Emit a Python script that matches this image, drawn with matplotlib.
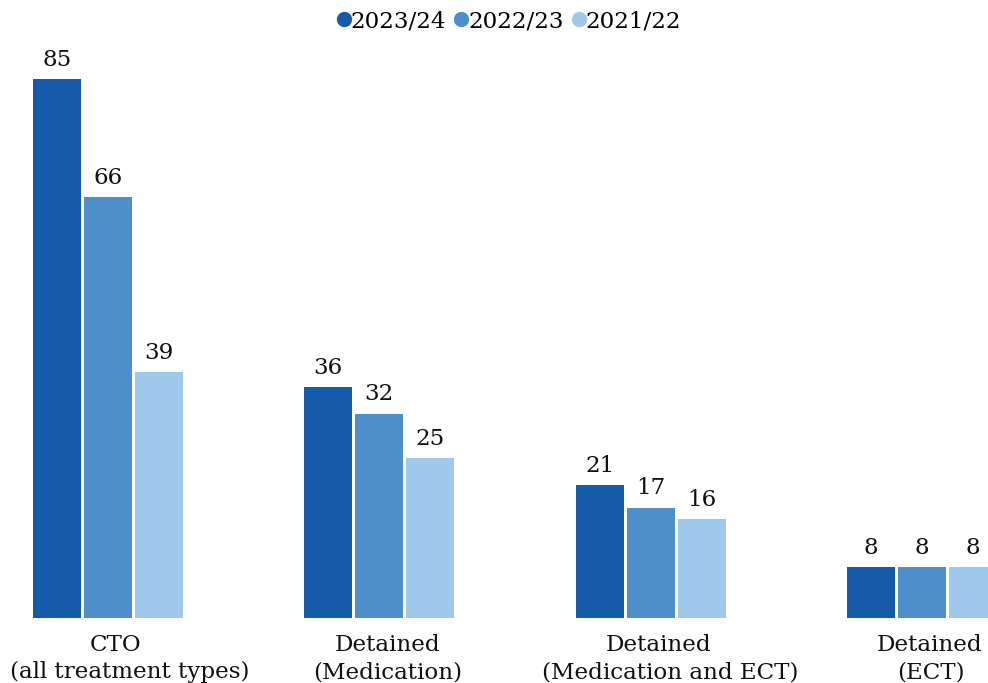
import numpy as np
import matplotlib.pyplot as plt
from matplotlib.transforms import offset_copy

plt.rcParams['font.family'] = 'DejaVu Serif'

categories = ["CTO\n(all treatment types)", "Detained\n(Medication)",
              "Detained\n(Medication and ECT)", "Detained\n(ECT)"]
series = ["2023/24", "2022/23", "2021/22"]
v2324 = [85, 36.4, 20.9, 8]
v2223 = [66.4, 32.2, 17.4, 8]
v2122 = [38.8, 25.2, 15.6, 8]
colors = ["#165BAA", "#4E8FCB", "#9FC8EB"]

FS = 16.6

fig = plt.figure(figsize=(9.88, 6.83), dpi=100)
ax = fig.add_axes([0, 1 - 618 / 683, 1, (618 - 40) / 683])

x = np.arange(len(categories))
w = 48 / 271.33
step = 51 / 271.33
for i, (vals, c, name) in enumerate(zip([v2324, v2223, v2122], colors, series)):
    bars = ax.bar(x + (i - 1) * step, vals, width=w, color=c, label=name)
    for b, v in zip(bars, vals):
        ax.annotate("%d" % round(v), (b.get_x() + b.get_width() / 2, v),
                    xytext=(0, 6), textcoords="offset points",
                    ha="center", va="bottom", fontsize=FS, color="#111111")

ax.set_xlim(-108 / 271.33, (988 - 108) / 271.33)
ax.set_ylim(0, 85 * (618 - 40) / 539)
ax.set_xticks([])
ax.set_yticks([])
for s in ax.spines.values():
    s.set_visible(False)

# category labels, two lines each, nudged right a little like the original
line2_dx = [0, 8, 20, 9]
for xi, lab, dx in zip(x, categories, line2_dx):
    top, bottom = lab.split("\n")
    tr1 = offset_copy(ax.get_xaxis_transform(), fig=fig, x=8, y=0, units="dots")
    ax.text(xi, -0.028, top, transform=tr1, ha="center", va="top",
            fontsize=FS, color="#111111")
    if xi == 0:
        ax.text(10 / 988, -0.075, bottom, transform=ax.transAxes, ha="left",
                va="top", fontsize=FS, color="#111111")
    else:
        tr2 = offset_copy(ax.get_xaxis_transform(), fig=fig, x=dx, y=0, units="dots")
        ax.text(xi, -0.075, bottom, transform=tr2, ha="center", va="top",
                fontsize=FS, color="#111111")

handles = [plt.Line2D([], [], marker="o", linestyle="", color=c, markersize=10)
           for c in colors]
fig.legend(handles, series, loc="upper center", bbox_to_anchor=(0.513, 1.015),
           ncol=3, frameon=False, fontsize=FS, handletextpad=-0.2,
           columnspacing=0.15, handlelength=1.0)

fig.savefig("out.png", dpi=100)
